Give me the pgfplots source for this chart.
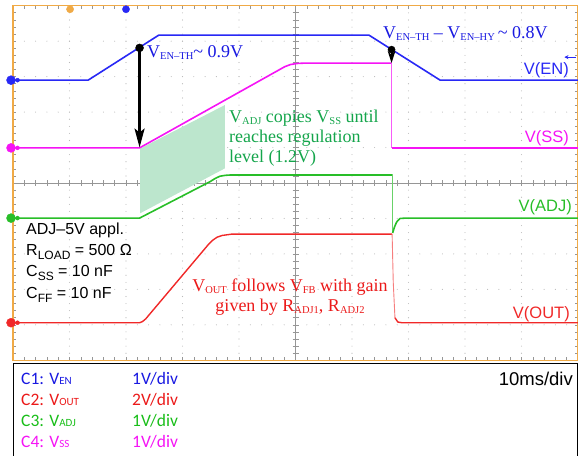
\documentclass[border=0pt]{standalone}
\usepackage{fontspec}
\setmainfont{Liberation Serif}
\newfontfamily\arial{Liberation Sans}
\newfontfamily\calib{Carlito}
\usepackage{pgfplots}
\pgfplotsset{compat=1.18}
\usetikzlibrary{arrows.meta}
\definecolor{traceblue}{RGB}{40,40,245}
\definecolor{tracemag}{RGB}{245,20,245}
\definecolor{tracegreen}{RGB}{40,190,40}
\definecolor{tracered}{RGB}{240,40,40}
\definecolor{textblue}{RGB}{25,25,225}
\definecolor{textgreen}{RGB}{20,165,75}
\definecolor{textred}{RGB}{235,25,25}
\definecolor{cgreen}{RGB}{25,190,25}
\definecolor{orangec}{RGB}{240,170,70}
\definecolor{mint}{RGB}{188,230,205}
\definecolor{gridc}{RGB}{185,185,185}
\definecolor{tickc}{RGB}{150,150,150}
\newcommand{\serif}{\fontsize{18}{21}\selectfont}
\newcommand{\sub}[1]{\raisebox{-1.6pt}{\fontsize{10.5}{12}\selectfont #1}}
\newcommand{\ssub}[1]{\raisebox{-4pt}{\fontsize{12}{14}\selectfont #1}}
\newcommand{\csub}[1]{{\fontsize{11}{13}\selectfont #1}}
\begin{document}
\begin{tikzpicture}
\useasboundingbox (-13pt,-94.7pt) rectangle (565pt,360.3pt);
\begin{axis}[at={(0pt,0pt)},anchor=south west,scale only axis,
  width=565pt,height=354.6pt,xmin=0,xmax=100,ymin=-5,ymax=5,
  hide axis,clip=false,no marks]
% dotted grid
\pgfplotsinvokeforeach{10,20,30,40,60,70,80,90}{
  \draw[gridc, line width=1.1pt, line cap=round, dash pattern=on 0pt off 7.09pt] (axis cs:#1,-5) -- (axis cs:#1,5);
}
\pgfplotsinvokeforeach{-4,-3,-2,-1,1,2,3,4}{
  \draw[gridc, line width=1.1pt, line cap=round, dash pattern=on 0pt off 11.3pt] (axis cs:0,#1) -- (axis cs:100,#1);
}
% center lines
\draw[tickc, line width=0.6pt] (axis cs:0,0) -- (axis cs:100,0);
\draw[tickc, line width=0.6pt] (axis cs:50,-5) -- (axis cs:50,5);
% ticks
\pgfplotsinvokeforeach{2,4,...,98}{
  \draw[tickc, line width=0.6pt] (axis cs:#1,5) -- ++(0pt,-3pt);
  \draw[tickc, line width=0.6pt] (axis cs:#1,-5) -- ++(0pt,3pt);
  \draw[tickc, line width=0.6pt] (axis cs:#1,0) ++(0pt,-3pt) -- ++(0pt,6pt);
}
\pgfplotsinvokeforeach{-4.8,-4.6,...,4.9}{
  \draw[tickc, line width=0.6pt] (axis cs:0,#1) -- ++(3pt,0pt);
  \draw[tickc, line width=0.6pt] (axis cs:100,#1) -- ++(-3pt,0pt);
  \draw[tickc, line width=0.6pt] (axis cs:50,#1) ++(-3pt,0pt) -- ++(6pt,0pt);
}
% frame
\draw[orangec, line width=1.6pt] (rel axis cs:0,0) rectangle (rel axis cs:1,1);
% shaded region
\addplot[draw=none, fill=mint] coordinates {(22.5,0.97)(37.52,2.20)(37.52,0.414)(22.5,-0.854)} -- cycle;
% traces
\addplot[traceblue, line width=1.6pt, line join=round] coordinates {(0,2.90)(13.3,2.90)(25.8,4.17)(63.0,4.17)(75.6,2.90)(100,2.90)};
\addplot[tracemag, line width=1.6pt, line join=round] coordinates {(0,0.99)(22.4,0.99)(48.1,3.28)(49.1,3.34)(50.2,3.37)(51.5,3.38)(67.0,3.38)};
\addplot[tracemag!70, line width=0.8pt] coordinates {(67.0,3.38)(67.0,0.99)};
\addplot[tracemag, line width=1.6pt] coordinates {(67.0,0.99)(100,0.99)};
\addplot[tracegreen, line width=1.6pt, line join=round] coordinates {(0,-0.99)(22.4,-0.99)(34.9,0.04)(35.8,0.13)(36.6,0.19)(37.5,0.215)(38.4,0.225)(67.2,0.225)};
\addplot[tracegreen!70, line width=0.8pt] coordinates {(67.2,0.225)(67.2,-1.41)};
\addplot[tracegreen, line width=1.6pt, line join=round] coordinates {(67.2,-1.41)(67.5,-1.25)(67.9,-1.10)(68.5,-1.00)(69.5,-0.99)(100,-0.99)};
\addplot[tracered, line width=1.4pt, line join=round] coordinates {(0,-3.94)(22.4,-3.94)(22.9,-3.91)(23.5,-3.83)(34.5,-1.75)(35.3,-1.62)(36.1,-1.53)(37.0,-1.48)(38.8,-1.44)(67.1,-1.44)};
\addplot[tracered!60, line width=0.9pt] coordinates {(67.1,-1.44)(67.3,-2.8)(67.6,-3.80)};
\addplot[tracered, line width=1.4pt, line join=round] coordinates {(67.6,-3.80)(68.1,-3.92)(68.8,-3.94)(100,-3.94)};
% markers / arrows
\addplot[black, line width=2.4pt, -{Stealth[length=19pt,width=10pt,inset=4pt]}] coordinates {(22.4,3.81)(22.4,1.0)};
\addplot[only marks, mark=*, mark size=4pt, black] coordinates {(22.4,3.81)};
\addplot[black, line width=2pt, -{Stealth[length=12pt,width=7.5pt]}] coordinates {(67.0,3.80)(67.0,3.38)};
\addplot[only marks, mark=*, mark size=3.6pt, black] coordinates {(67.0,3.76)};
% channel markers
\addplot[only marks, mark=*, mark size=4.5pt, traceblue] coordinates {(-0.35,2.90)};
\addplot[only marks, mark=*, mark size=4.5pt, tracemag] coordinates {(-0.35,0.99)};
\addplot[only marks, mark=*, mark size=4.5pt, tracegreen] coordinates {(-0.35,-0.99)};
\addplot[only marks, mark=*, mark size=4.5pt, tracered] coordinates {(-0.35,-3.94)};
\addplot[only marks, mark=triangle*, mark size=2pt, mark options={rotate=-90}, traceblue] coordinates {(0.8,2.90)};
\addplot[only marks, mark=triangle*, mark size=2pt, mark options={rotate=-90}, tracemag] coordinates {(0.8,0.99)};
\addplot[only marks, mark=triangle*, mark size=2pt, mark options={rotate=-90}, tracegreen] coordinates {(0.8,-0.99)};
\addplot[only marks, mark=triangle*, mark size=2pt, mark options={rotate=-90}, tracered] coordinates {(0.8,-3.94)};
\node[text=white, font=\arial\fontsize{7}{7}\selectfont\bfseries, inner sep=0] at (axis cs:-0.35,2.90) {1};
\node[text=white, font=\arial\fontsize{7}{7}\selectfont\bfseries, inner sep=0] at (axis cs:-0.35,0.99) {4};
\node[text=white, font=\arial\fontsize{7}{7}\selectfont\bfseries, inner sep=0] at (axis cs:-0.35,-0.99) {3};
\node[text=white, font=\arial\fontsize{7}{7}\selectfont\bfseries, inner sep=0] at (axis cs:-0.35,-3.94) {2};
\addplot[only marks, mark=triangle*, mark size=3.6pt, mark options={rotate=180}, orangec] coordinates {(10.1,4.90)};
\addplot[only marks, mark=triangle*, mark size=3.6pt, mark options={rotate=180}, traceblue] coordinates {(20.0,4.90)};
\addplot[traceblue, line width=0.8pt, -{Stealth[length=4pt,width=4pt]}] coordinates {(99.6,3.55)(97.6,3.55)};
\end{axis}
% annotations
\node[anchor=base west, text=textblue, inner sep=0] at (134pt,302.3pt) {\serif V\sub{EN–TH}\textasciitilde{} 0.9V};
\node[anchor=base west, text=textblue, inner sep=0] at (370pt,321.3pt) {\serif V\sub{EN–TH} – V\sub{EN–HY}\,\textasciitilde{} 0.8V};
\node[anchor=base west, text=textgreen, inner sep=0] at (216pt,237.3pt) {\serif V\sub{ADJ} copies V\sub{SS} until};
\node[anchor=base west, text=textgreen, inner sep=0] at (216pt,217.5pt) {\serif reaches regulation};
\node[anchor=base west, text=textgreen, inner sep=0] at (216pt,197.5pt) {\serif level (1.2V)};
\node[anchor=base, text=textred, inner sep=0] at (277pt,68.6pt) {\serif V\sub{OUT} follows V\sub{FB} with gain};
\node[anchor=base, text=textred, inner sep=0] at (277pt,48.6pt) {\serif given by R\sub{ADJ1}, R\sub{ADJ2}};
\begin{scope}[every node/.style={anchor=base west, inner sep=0, font=\arial\fontsize{16}{19}\selectfont}]
\node at (13pt,125.3pt) {ADJ–5V appl.};
\node at (13pt,104.3pt) {R\ssub{LOAD} = 500 Ω};
\node at (13pt,83.3pt) {C\ssub{SS} = 10 nF};
\node at (13pt,62pt) {C\ssub{FF} = 10 nF};
\end{scope}
\begin{scope}[every node/.style={anchor=base east, inner sep=0, font=\arial\fontsize{16.5}{19}\selectfont}]
\node[text=traceblue] at (556pt,285.3pt) {V(EN)};
\node[text=tracemag] at (556pt,217.3pt) {V(SS)};
\node[text=tracegreen] at (559pt,148.3pt) {V(ADJ)};
\node[text=tracered] at (557pt,42.3pt) {V(OUT)};
\end{scope}
% bottom panel
\draw[black, line width=1pt] (0.5pt,-2.9pt) rectangle (564.5pt,-96pt);
\begin{scope}[every node/.style={anchor=base west, inner sep=0, font=\calib\fontsize{17.5}{20}\selectfont}]
\node[text=textblue] at (8pt,-23.7pt) {C1: V\csub{EN}};
\node[text=textblue] at (119pt,-23.7pt) {1V/div};
\node[text=textred] at (8pt,-44.7pt) {C2: V\csub{OUT}};
\node[text=textred] at (119pt,-44.7pt) {2V/div};
\node[text=cgreen] at (8pt,-65.7pt) {C3: V\csub{ADJ}};
\node[text=cgreen] at (119pt,-65.7pt) {1V/div};
\node[text=tracemag] at (8pt,-86.7pt) {C4: V\csub{SS}};
\node[text=tracemag] at (119pt,-86.7pt) {1V/div};
\end{scope}
\node[anchor=base east, inner sep=0, font=\arial\fontsize{18.5}{21}\selectfont] at (560pt,-24.7pt) {10ms/div};
\end{tikzpicture}
\end{document}
